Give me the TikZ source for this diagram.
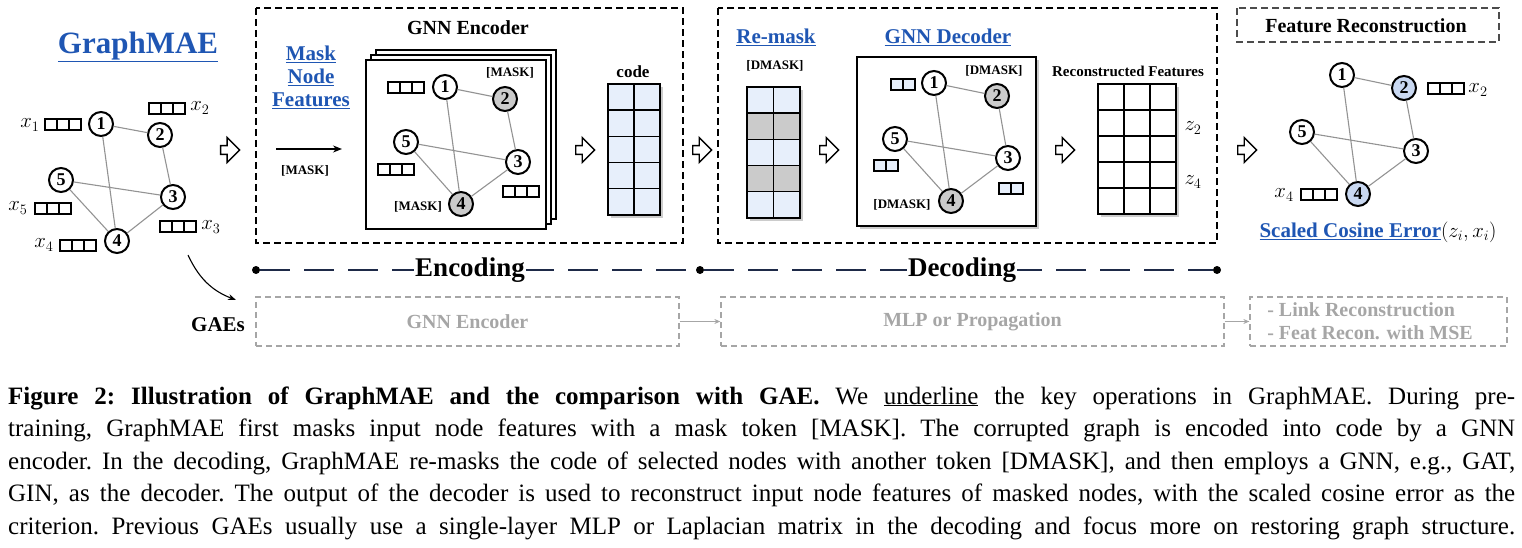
\documentclass[tikz,border=0pt]{standalone}
\usepackage{fontspec}
\setmainfont{Liberation Serif}
\usetikzlibrary{shapes.arrows,arrows.meta}
\definecolor{blueT}{HTML}{1F56B3}
\definecolor{lblue}{HTML}{E7EFFB}
\definecolor{nblue}{HTML}{C9D8F1}
\definecolor{gnode}{HTML}{CBCBCB}
\definecolor{gaeg}{HTML}{A6A6A6}
\definecolor{navy}{HTML}{1E2A48}
\newcommand\mygrid[7]{\foreach \i in {1,...,#3}{\foreach \j in {1,...,#4}{\draw[fill=#7,line width=1.4pt] ({#1+(\i-1)*#5},{#2+(\j-1)*#6}) rectangle ++(#5,#6);}}}
\newcommand\fsz[1]{\fontsize{#1}{#1}\selectfont}
\tikzset{
  gn/.style={circle,draw,line width=2pt,fill=white,minimum size=24pt,inner sep=0pt,font=\fsz{18}\bfseries},
  ge/.style={draw=gray!85,line width=1.1pt},
  harrow/.style={single arrow,draw,line width=1.4pt,minimum height=19pt,minimum width=25pt,single arrow head extend=5pt,inner sep=2pt,fill=white},
  lbl/.style={font=\fsz{20}\bfseries,inner sep=0pt},
  small/.style={font=\fsz{13}\bfseries,inner sep=0pt},
  blue/.style={text=blueT,font=\fsz{21}\bfseries,inner sep=0pt,align=center},
  xl/.style={font=\fsz{21},inner sep=0pt},
  gae/.style={draw=gaeg,line width=1.3pt,dash pattern=on 6pt off 4pt},
  gaet/.style={text=gaeg,font=\fsz{20}\bfseries,inner sep=0pt,align=left},
  dot/.style={circle,fill=black,inner sep=0pt,minimum size=8pt},
  capline/.style={anchor=west,inner sep=0pt,font=\fsz{25}\frenchspacing},
}
\begin{document}
\begin{tikzpicture}[x=1pt,y=-1pt]
\useasboundingbox (0,0) rectangle (1522,548);
% ---------- left graph
\node[text=blueT,font=\fsz{31}\bfseries] (title) at (138,47) {\underline{GraphMAE}};
\node[gn] (a1) at (101,124) {1};
\node[gn] (a2) at (160,135) {2};
\node[gn] (a5) at (61,180) {5};
\node[gn] (a3) at (173,197) {3};
\node[gn] (a4) at (117,241) {4};
\draw[ge] (a1)--(a2) (a1)--(a4) (a2)--(a3) (a5)--(a3) (a5)--(a4) (a4)--(a3);
\mygrid{45}{119}{3}{1}{12}{11}{white}
\mygrid{149}{103}{3}{1}{12}{11}{white}
\mygrid{35}{203}{3}{1}{12}{11}{white}
\mygrid{160}{221}{3}{1}{12}{11}{white}
\mygrid{60}{240}{3}{1}{12}{11}{white}
\node[xl] (lx1) at (30,125) {$x_1$};
\node[xl] (lx2) at (200,108) {$x_2$};
\node[xl] (lx5) at (18,208) {$x_5$};
\node[xl] (lx3) at (211,227) {$x_3$};
\node[xl] (lx4) at (44,245) {$x_4$};
% hollow arrows
\node[harrow] (h1) at (228,150) {};
\node[harrow] (h2) at (583,150) {};
\node[harrow] (h3) at (700,150) {};
\node[harrow] (h4) at (827,150) {};
\node[harrow] (h5) at (1063,150) {};
\node[harrow] (h6) at (1245,150) {};
% ---------- encoder
\draw[line width=1.6pt,dash pattern=on 7pt off 4pt] (256,8) rectangle (683,243);
\node[blue] (mnf) at (311,77) {\underline{Mask}\\[2pt]\underline{Node}\\[2pt]\underline{Features}};
\node[lbl] (gnnenc) at (468,28) {GNN Encoder};
\coordinate (m0) at (276,149); \coordinate (m1) at (342,149);
\draw[line width=1.8pt,-{Stealth[length=9pt,width=7pt]}] (m0)--(m1);
\node[small] (mk) at (305,171) {[MASK]};
\draw[line width=1.4pt,fill=white] (376,50) rectangle (556,219);
\draw[line width=1.4pt,fill=white] (371,55) rectangle (551,224);
\draw[line width=1.6pt,fill=white] (366,60) rectangle (546,229);
\node[gn] (b1) at (445,87) {1};
\node[gn,fill=gnode] (b2) at (505,99) {2};
\node[gn] (b5) at (406,142) {5};
\node[gn] (b3) at (518,162) {3};
\node[gn,fill=gnode] (b4) at (461,204) {4};
\draw[ge] (b1)--(b2) (b1)--(b4) (b2)--(b3) (b5)--(b3) (b5)--(b4) (b4)--(b3);
\node[small] (mk2) at (510,73) {[MASK]};
\node[small] (mk4) at (418,207) {[MASK]};
\mygrid{388}{82}{3}{1}{12}{11}{white}
\mygrid{378}{164}{3}{1}{12}{11}{white}
\mygrid{503}{186}{3}{1}{12}{11}{white}
\node[lbl,font=\fsz{17}\bfseries] (code) at (633,72) {code};
\fill[gray!40] (611,87) rectangle (663,218);
\mygrid{608}{84}{2}{5}{26}{26.2}{lblue}
% ---------- decoder
\draw[line width=1.6pt,dash pattern=on 7pt off 4pt] (718,8) rectangle (1217,243);
\node[blue] (rm) at (776,37) {\underline{Re-mask}};
\node[blue] (gd) at (948,37) {\underline{GNN Decoder}};
\node[small] (dm) at (775,66) {[DMASK]};
\fill[gray!40] (750,90) rectangle (803,221);
\foreach \j/\c in {0/lblue,1/gnode,2/lblue,3/gnode,4/lblue}{
  \draw[fill=\c,line width=1.4pt] (747,{87+\j*26.2}) rectangle ++(26.5,26.2);
  \draw[fill=\c,line width=1.4pt] (773.5,{87+\j*26.2}) rectangle ++(26.5,26.2);}
\fill[gray!40] (860,60) rectangle (1039,229);
\draw[line width=1.6pt,fill=white] (857,57) rectangle (1036,226);
\node[gn] (c1) at (934,83) {1};
\node[gn,fill=gnode] (c2) at (997,96) {2};
\node[gn] (c5) at (895,139) {5};
\node[gn] (c3) at (1008,158) {3};
\node[gn,fill=gnode] (c4) at (951,201) {4};
\draw[ge] (c1)--(c2) (c1)--(c4) (c2)--(c3) (c5)--(c3) (c5)--(c4) (c4)--(c3);
\node[small] (dm2) at (994,71) {[DMASK]};
\node[small] (dm4) at (902,205) {[DMASK]};
\mygrid{891}{79}{2}{1}{12}{11}{lblue}
\mygrid{874}{160}{2}{1}{12}{11}{lblue}
\mygrid{999}{183}{2}{1}{12}{11}{lblue}
\node[lbl,font=\fsz{15}\bfseries] (rf) at (1128,71) {Reconstructed Features};
\fill[gray!40] (1101,87) rectangle (1179,217);
\mygrid{1098}{84}{3}{5}{26}{26}{white}
\node[xl] (z2) at (1193,128) {$z_2$};
\node[xl] (z4) at (1193,182) {$z_4$};
% ---------- feature reconstruction
\draw[line width=1.4pt,draw=black!70,dash pattern=on 7pt off 4pt] (1237,8) rectangle (1499,42);
\node[lbl] (fr) at (1366,26) {Feature Reconstruction};
\node[gn] (d1) at (1342,75) {1};
\node[gn,fill=nblue] (d2) at (1404,88) {2};
\node[gn] (d5) at (1302,132) {5};
\node[gn] (d3) at (1416,151) {3};
\node[gn,fill=nblue] (d4) at (1358,194) {4};
\draw[ge] (d1)--(d2) (d1)--(d4) (d2)--(d3) (d5)--(d3) (d5)--(d4) (d4)--(d3);
\mygrid{1428}{83}{3}{1}{12}{11}{white}
\mygrid{1301}{189}{3}{1}{12}{11}{white}
\node[xl] (rx2) at (1478,90) {$x_2$};
\node[xl] (rx4) at (1284,195) {$x_4$};
\node[inner sep=0pt,font=\fsz{21}] (sce) at (1378,232) {\textcolor{blueT}{\bfseries\underline{Scaled Cosine Error}}$(z_i,x_i)$};
% ---------- encoding / decoding line
\node[dot] (e0) at (256,270) {};
\node[dot] (e1) at (700,270) {};
\node[dot] (e2) at (1217,270) {};
\draw[navy,line width=1.6pt,dash pattern=on 30pt off 14pt] (e0)--(e1);
\draw[navy,line width=1.6pt,dash pattern=on 30pt off 14pt] (e1)--(e2);
\node[font=\fsz{27}\bfseries,fill=white,inner sep=1pt] (enc) at (470,270) {Encoding};
\node[font=\fsz{27}\bfseries,fill=white,inner sep=1pt] (dec) at (962,270) {Decoding};
% ---------- GAE row
\coordinate (g0) at (188,255); \coordinate (g1) at (236,300);
\draw[line width=1.1pt,-{Stealth[length=8pt,width=6pt]}] (g0) to[bend right=22] (g1);
\node[font=\fsz{21}\bfseries,inner sep=0pt] (gaes) at (218,325) {GAEs};
\node[gae,minimum width=423pt,minimum height=49pt,inner sep=0pt] (ga) at (467.5,321.5) {};
\node[gaet] at (ga) {GNN Encoder};
\node[gae,minimum width=503pt,minimum height=49pt,inner sep=0pt] (gb) at (972.5,321.5) {};
\node[gaet] at (gb) {MLP or Propagation};
\node[gae,minimum width=257pt,minimum height=49pt,inner sep=0pt] (gc) at (1378.5,321.5) {};
\node[gaet,font=\fsz{20}\bfseries] at (1370,321.5) {- Link Reconstruction\\[3pt]- Feat Recon. with MSE};
\draw[gaeg,line width=1.1pt,-{Stealth[length=6pt,width=5pt]}] (ga)--(gb);
\draw[gaeg,line width=1.1pt,-{Stealth[length=6pt,width=5pt]}] (gb)--(gc);
% ---------- caption
\node[capline] (l1) at (8,398) {\hbox to 1507pt{\textbf{Figure 2: Illustration of GraphMAE and the comparison with GAE.} We \underline{underline} the key operations in GraphMAE. During pre-}};
\node[capline] (l2) at (8,430) {\hbox to 1507pt{training, GraphMAE first masks input node features with a mask token [MASK]. The corrupted graph is encoded into code by a GNN}};
\node[capline] (l3) at (8,463) {\hbox to 1507pt{encoder. In the decoding, GraphMAE re-masks the code of selected nodes with another token [DMASK], and then employs a GNN, e.g., GAT,}};
\node[capline] (l4) at (8,495) {\hbox to 1507pt{GIN, as the decoder. The output of the decoder is used to reconstruct input node features of masked nodes, with the scaled cosine error as the}};
\node[capline] (l5) at (8,528) {\hbox to 1507pt{criterion. Previous GAEs usually use a single-layer MLP or Laplacian matrix in the decoding and focus more on restoring graph structure.}};
\end{tikzpicture}
\end{document}
